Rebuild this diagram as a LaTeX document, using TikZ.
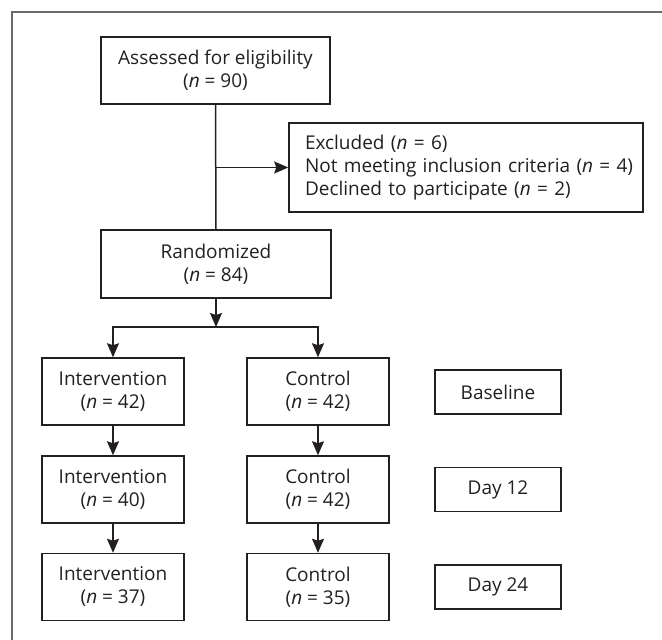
\documentclass[tikz,border=0pt]{standalone}
\usepackage{fontspec}
\setmainfont{Open Sans}
\usetikzlibrary{arrows.meta}
\definecolor{ink}{HTML}{231F20}
\definecolor{framegray}{HTML}{6A6A6A}
\tikzset{
  box/.style={draw=ink, line width=1.5pt, text=ink, align=center, inner sep=0pt,
    font=\fontsize{19}{23}\selectfont},
  flowbox/.style={box, minimum width=142pt, minimum height=67pt},
  timebox/.style={box, minimum width=126pt, minimum height=44pt},
  arr/.style={draw=ink, line width=1.5pt, -{Stealth[length=14pt,width=12pt,inset=2pt]}},
  plain/.style={draw=ink, line width=1.5pt}
}
\begin{document}
\begin{tikzpicture}[x=1pt,y=-1pt]
\useasboundingbox (0,0) rectangle (662,640);
\draw[framegray, line width=1.5pt] (12,640) -- (12,12) -- (662,12);

\node[box, minimum width=229pt, minimum height=67pt] (assess) at (215.5,70.5)
  {Assessed for eligibility\\(\emph{n} = 90)};
\node[box, align=left, minimum width=354pt, minimum height=89pt, text width=322pt, inner xsep=16pt] (excl) at (466,167.5)
  {\mbox{Excluded (\emph{n} = 6)}\\\mbox{Not meeting inclusion criteria (\emph{n} = 4)}\\\mbox{Declined to participate (\emph{n} = 2)}};
\node[box, minimum width=230pt, minimum height=68pt] (rand) at (216,264)
  {Randomized\\(\emph{n} = 84)};

\node[flowbox] (int1) at (113,391.5) {Intervention\\(\emph{n} = 42)};
\node[flowbox] (int2) at (113,489.5) {Intervention\\(\emph{n} = 40)};
\node[flowbox] (int3) at (113,587) {Intervention\\(\emph{n} = 37)};
\node[flowbox] (con1) at (318,391.5) {Control\\(\emph{n} = 42)};
\node[flowbox] (con2) at (318,489.5) {Control\\(\emph{n} = 42)};
\node[flowbox] (con3) at (318,587) {Control\\(\emph{n} = 35)};

\node[timebox] (base) at (498,392) {Baseline};
\node[timebox] (d12) at (498,489.5) {Day 12};
\node[timebox] (d24) at (498,587) {Day 24};

\coordinate (ex) at (assess.south |- excl.west);
\draw[plain] (assess.south) -- (rand.north);
\draw[arr] (ex) -- (excl.west);

\coordinate (sp) at (216,327);
\draw[arr] (rand.south) -- (sp);
\draw[arr] (sp) -| (int1.north);
\draw[arr] (sp) -| (con1.north);

\draw[arr] (int1) -- (int2);
\draw[arr] (int2) -- (int3);
\draw[arr] (con1) -- (con2);
\draw[arr] (con2) -- (con3);
\end{tikzpicture}
\end{document}
